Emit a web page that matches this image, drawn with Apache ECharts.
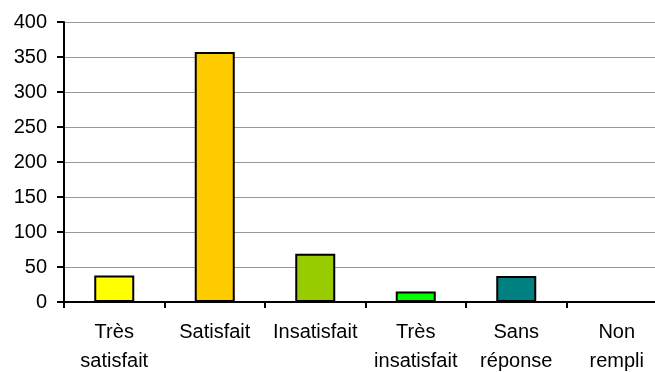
<!DOCTYPE html>
<html>
<head>
<meta charset="utf-8">
<script src="https://cdn.jsdelivr.net/npm/echarts@6/dist/echarts.min.js"></script>
<style>
  html, body { margin: 0; padding: 0; background: #fff; }
  #chart { width: 655px; height: 372px; }
</style>
</head>
<body>
<div id="chart"></div>
<script>
(function(){
    // data
    let categories = ['Très\nsatisfait', 'Satisfait', 'Insatisfait', 'Très\ninsatisfait', 'Sans\nréponse', 'Non\nrempli'];
    let values = [38, 357, 69, 15, 37, 0];
    let barColors = ['#FFFF00', '#FFCC00', '#99CC00', '#00FF00', '#008080', '#CCCCCC'];
    let yTicks = { min: 0, max: 400, interval: 50 };

    let chart = echarts.init(document.getElementById('chart'));

    let opts = {
        animation: false,
        textStyle: { fontFamily: '"Liberation Sans", Arial, sans-serif' },
        // plot runs past the right edge of the picture
        grid: { left: 64, top: 22, width: 603, height: 280, outerBoundsMode: 'none' },
        xAxis: {
            type: 'category',
            data: categories,
            axisLine: { lineStyle: { color: '#000', width: 2 } },
            axisTick: { show: true, length: 6, lineStyle: { color: '#000', width: 2 } },
            axisLabel: {
                color: '#000',
                fontSize: 20,
                lineHeight: 29,
                margin: 16,
                interval: 0
            },
            splitLine: { show: false }
        },
        yAxis: {
            type: 'value',
            min: yTicks.min,
            max: yTicks.max,
            interval: yTicks.interval,
            axisLine: { show: true, lineStyle: { color: '#000', width: 2 } },
            axisTick: { show: true, length: 7, lineStyle: { color: '#000', width: 2 } },
            axisLabel: { color: '#000', fontSize: 20, margin: 17 },
            splitLine: { lineStyle: { color: '#999', width: 1 } }
        },
        series: [
            {
                type: 'bar',
                barWidth: 40,
                data: values.map((v, i) => {
                    return {
                        value: v,
                        itemStyle: { color: barColors[i], borderColor: '#000', borderWidth: 2 }
                    };
                })
            }
        ]
    };

    chart.setOption(opts);
})();
</script>
</body>
</html>
